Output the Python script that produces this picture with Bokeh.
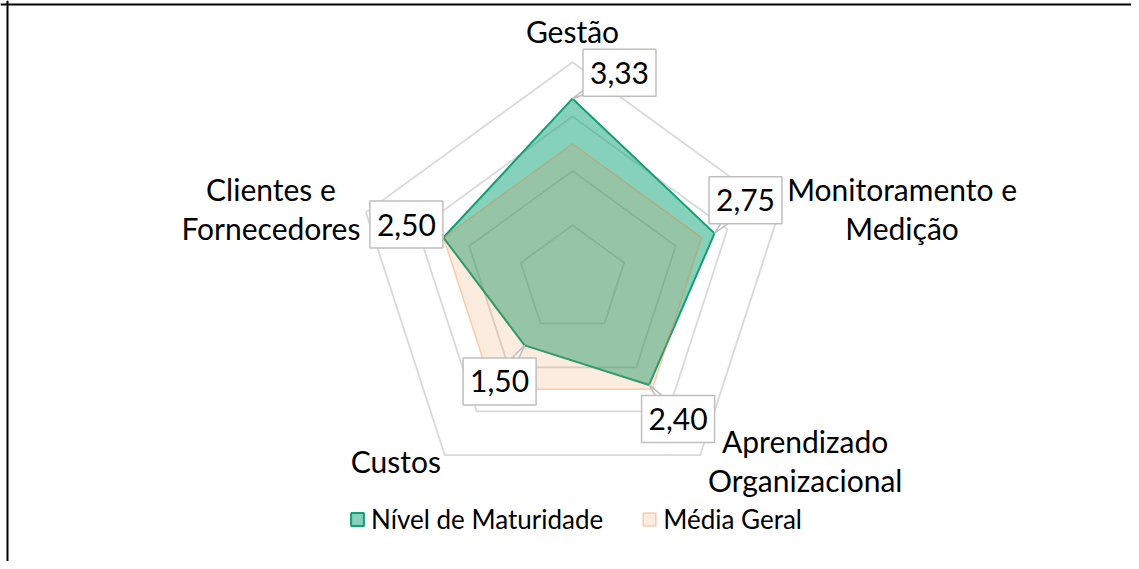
import numpy as np
from bokeh.plotting import figure
from bokeh.models import Range1d, Legend, LegendItem, Span
from bokeh.embed import file_html
from bokeh.resources import INLINE
from bokeh.core.properties import value

# ---------------- data ----------------
categories = ["Gestão", "Monitoramento e\nMedição", "Aprendizado\nOrganizacional",
              "Custos", "Clientes e\nFornecedores"]
nivel = [3.33, 2.75, 2.40, 1.50, 2.50]
media = [2.50, 2.50, 2.50, 2.50, 2.50]
value_labels = ["3,33", "2,75", "2,40", "1,50", "2,50"]
ring_levels = [1, 2, 3, 4]
series_names = ["Nível de Maturidade", "Média Geral"]

# ---------------- styles / layout ----------------
FONT = "Lato"
W, H = 1131, 561
SCALE = 54.3            # px per unit
CX, CY = 572, 279       # centre in canvas px
# callout offsets (screen px, +y down) from the data point
label_dx = [47, 31, 29, -25, -37]
label_dy = [-26, -33, 34, 36, -13]
# category label offsets (screen px, +y down) from outer vertex
cat_dx = [0, 123, 105, -49, -95]
cat_dy = [-31, -4, 5, 6, -4]

n = len(categories)
ang = np.arange(n) * 2 * np.pi / n

def pts(vals):
    v = np.asarray(vals, float)
    return list(v * np.sin(ang)), list(v * np.cos(ang))

p = figure(width=W, height=H, output_backend="svg", toolbar_location=None,
           x_range=Range1d(-CX / SCALE, (W - CX) / SCALE),
           y_range=Range1d(-(H - CY) / SCALE, CY / SCALE),
           x_axis_location=None, y_axis_location=None, min_border=0)
p.grid.visible = False
p.outline_line_color = None
p.background_fill_color = "white"

# frame border (top & left visible in reference)
p.add_layout(Span(location=p.x_range.start + 7 / SCALE, dimension="height",
                  line_color="black", line_width=2))
p.add_layout(Span(location=p.y_range.end - 4 / SCALE, dimension="width",
                  line_color="black", line_width=2))

# rings
rxs, rys = [], []
for lv in ring_levels:
    x, y = pts([lv] * n)
    rxs.append(x); rys.append(y)
p.patches(rxs, rys, fill_color=None, line_color="#d9d9d9", line_width=1.8)

# series
gx, gy = pts(nivel)
g = p.patch(gx, gy, fill_color="#0ea37a", fill_alpha=0.5, line_color="#139e74", line_width=2)
mx, my = pts(media)
m = p.patch(mx, my, fill_color="#ed7d31", fill_alpha=0.15, line_color="#ed7d31",
            line_alpha=0.35, line_width=1.5)

# callouts
bw, bh = 73, 47
bxs, bys, txs, tys = [], [], [], []
for i in range(n):
    px, py = gx[i], gy[i]
    bx = px + label_dx[i] / SCALE
    by = py - label_dy[i] / SCALE
    bxs.append(bx); bys.append(by)
    d = np.array([label_dx[i], -label_dy[i]], float)
    d /= np.linalg.norm(d)
    perp = np.array([-d[1], d[0]]) * 8 / SCALE
    txs.append([px, bx + perp[0], bx - perp[0]])
    tys.append([py, by + perp[1], by - perp[1]])
p.patches(txs, tys, fill_color="white", line_color="#bfbfbf", line_width=1.5)
p.rect(bxs, bys, width=bw, height=bh, width_units="screen", height_units="screen",
       fill_color="white", line_color="#bfbfbf", line_width=1.5)
p.text(bxs, bys, text=value_labels, text_align="center", text_baseline="middle",
       text_font=value(FONT), text_font_size="30px", text_color="black")

# category labels
ox, oy = pts([ring_levels[-1]] * n)
for i in range(n):
    p.text([ox[i]], [oy[i]], text=[categories[i]], x_offset=cat_dx[i], y_offset=cat_dy[i],
           text_align="center", text_baseline="middle", text_font=value(FONT),
           text_font_size="30px", text_color="black", text_line_height=1.08)

legend = Legend(items=[LegendItem(label=series_names[0], renderers=[g]),
                       LegendItem(label=series_names[1], renderers=[m])],
                orientation="horizontal", location=(349, 26),
                glyph_width=16, glyph_height=16, label_text_font=FONT,
                label_text_font_size="26px", label_text_color="black",
                label_standoff=6, spacing=38,
                padding=0, margin=0, border_line_alpha=0, background_fill_alpha=0,
                label_height=20)
p.add_layout(legend)

open("out.html", "w").write(file_html(p, INLINE))
